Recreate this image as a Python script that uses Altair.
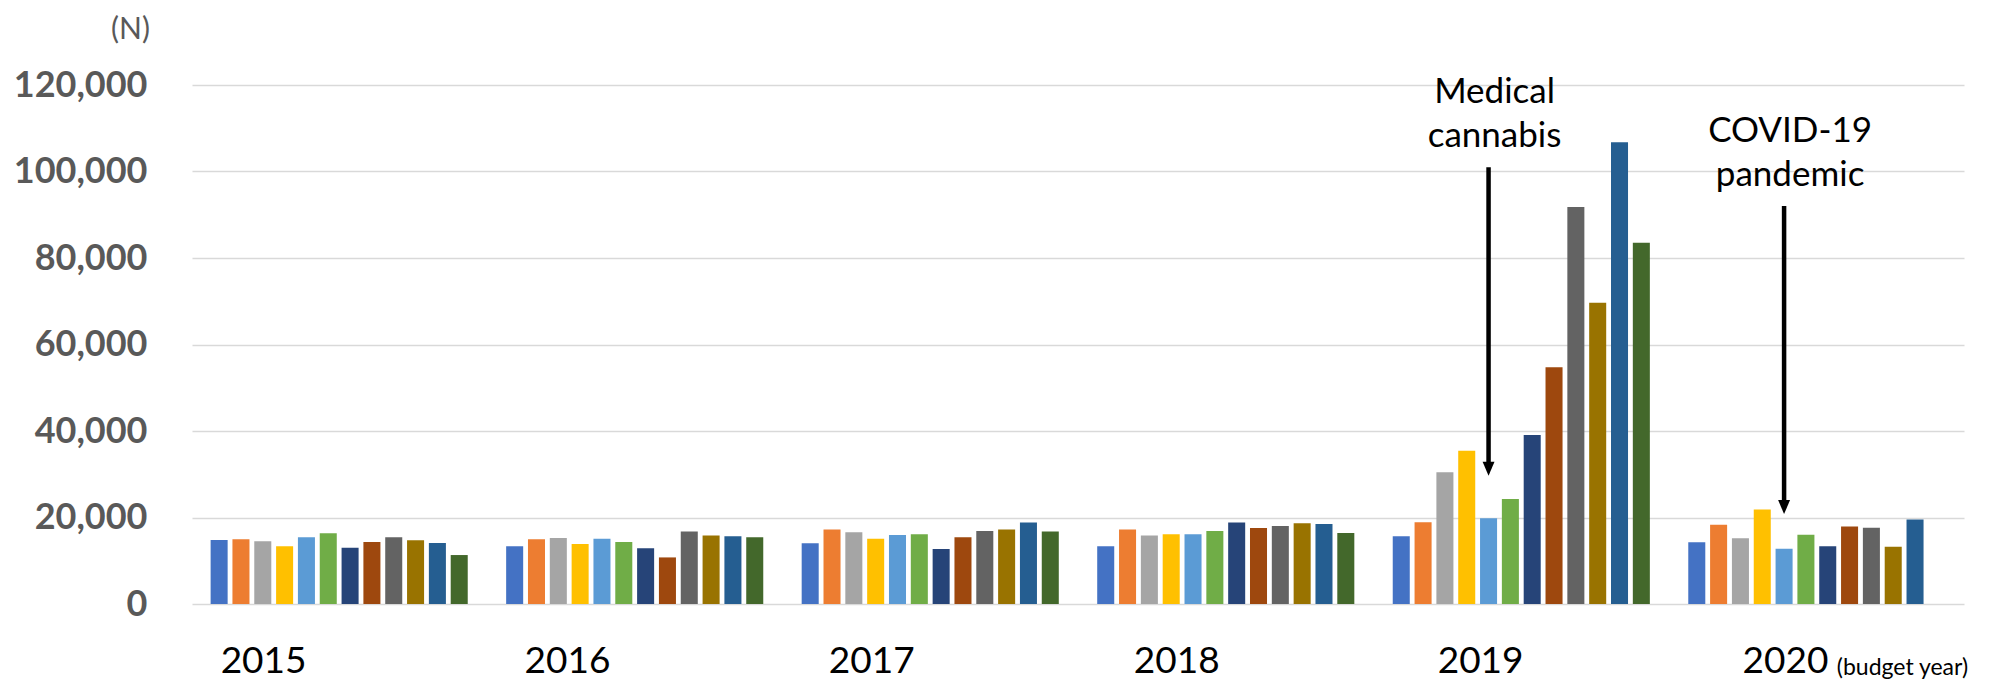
import altair as alt
import pandas as pd

# ---- data ----
years = ["2015", "2016", "2017", "2018", "2019", "2020"]
months = ["Apr", "May", "Jun", "Jul", "Aug", "Sep", "Oct", "Nov", "Dec", "Jan", "Feb", "Mar"]
month_colors = ["#4472C4", "#ED7D31", "#A5A5A5", "#FFC000", "#5B9BD5", "#70AD47",
                "#264478", "#9E480E", "#636363", "#997300", "#255E91", "#43682B"]

v2015 = [14800, 14960, 14490, 13330, 15420, 16350, 13020, 14340, 15420, 14730, 14100, 11320]
v2016 = [13330, 14960, 15270, 13870, 15110, 14340, 12870, 10770, 16740, 15810, 15660, 15420]
v2017 = [14030, 17200, 16590, 15110, 15970, 16120, 12710, 15420, 16900, 17200, 18830, 16740]
v2018 = [13330, 17200, 15810, 16120, 16120, 16900, 18830, 17590, 18060, 18680, 18520, 16430]
v2019 = [15690, 18920, 30450, 35450, 19840, 24300, 39070, 54750, 91820, 69670, 106740, 83510]
v2020 = [14300, 18300, 15230, 21840, 12770, 16000, 13380, 17920, 17610, 13230, 19530]

ann_labels = [["Medical", "cannabis"], ["COVID-19", "pandemic"]]
ann_years = ["2019", "2020"]
ann_months = ["Aug", "Aug"]
ann_text_y = [115900, 106900]
ann_arrow_top = [101000, 92000]
ann_arrow_head = [31300, 22400]

y_ticks = [0, 20000, 40000, 60000, 80000, 100000, 120000]
year_label_shift = [-75.6, -67.2, -58.5, -49.0, -40.7, -31.4]

# ---- tables ----
series = [v2015, v2016, v2017, v2018, v2019, v2020]
rows = []
for yr, vals in zip(years, series):
    for m, v in zip(months, vals):
        rows.append({"year": yr, "month": m, "value": v})
df = pd.DataFrame(rows)

ann = pd.DataFrame({
    "label": ann_labels,
    "year": ann_years,
    "month": ann_months,
    "ty": ann_text_y,
    "top": ann_arrow_top,
    "head": ann_arrow_head,
})

FONT = "Lato"

x_scale = alt.Scale(domain=years, paddingInner=0.13, paddingOuter=0.063)
off_scale = alt.Scale(domain=months, paddingInner=0.22, paddingOuter=0)
y_scale = alt.Scale(domain=[0, 120000], nice=False)

label_offset = {
    "condition": [
        {"test": f"datum.value == '{yr}'", "value": s}
        for yr, s in zip(years[:-1], year_label_shift[:-1])
    ],
    "value": year_label_shift[-1],
}

x_enc = alt.X(
    "year:N",
    scale=x_scale,
    title=None,
    axis=alt.Axis(
        labelFont=FONT,
        labelFontSize=37,
        labelColor="#000000",
        labelPadding=39,
        labelAngle=0,
        ticks=False,
        domain=False,
        labelOffset=label_offset,
    ),
)

y_enc = alt.Y(
    "value:Q",
    scale=y_scale,
    axis=alt.Axis(
        values=y_ticks,
        format=",.0f",
        labelFont=FONT,
        labelFontSize=36,
        labelFontWeight="bold",
        labelColor="#595959",
        labelPadding=45,
        ticks=False,
        domain=False,
        grid=True,
        gridColor="#D9D9D9",
        gridWidth=1.5,
        title="(N)",
        titleAngle=0,
        titleX=-62,
        titleY=-56,
        titleAlign="center",
        titleBaseline="middle",
        titleFont=FONT,
        titleFontSize=30,
        titleFontWeight="normal",
        titleColor="#595959",
    ),
)

bars = alt.Chart(df).mark_bar().encode(
    x=x_enc,
    xOffset=alt.XOffset("month:N", scale=off_scale),
    y=y_enc,
    color=alt.Color("month:N", scale=alt.Scale(domain=months, range=month_colors), legend=None),
)

arrow_line = alt.Chart(ann).mark_rule(color="#000000", strokeWidth=4.5).encode(
    x=alt.X("year:N", scale=x_scale),
    xOffset=alt.XOffset("month:N", scale=off_scale),
    y=alt.Y("top:Q", scale=y_scale),
    y2="head:Q",
)

arrow_head = alt.Chart(ann).mark_point(
    shape="M-0.85,-1L0.85,-1L0,1Z", size=196, filled=True, color="#000000", opacity=1
).encode(
    x=alt.X("year:N", scale=x_scale),
    xOffset=alt.XOffset("month:N", scale=off_scale),
    y=alt.Y("head:Q", scale=y_scale),
)

ann_text = alt.Chart(ann).mark_text(
    font=FONT, fontSize=35, color="#000000", align="center", baseline="alphabetic",
    lineHeight=44, dx=6,
).encode(
    x=alt.X("year:N", scale=x_scale),
    xOffset=alt.XOffset("month:N", scale=off_scale),
    y=alt.Y("ty:Q", scale=y_scale),
    text="label",
)

budget = alt.Chart(pd.DataFrame({"year": ["2020"], "t": ["(budget year)"]})).mark_text(
    font=FONT, fontSize=23, color="#000000", align="left", baseline="alphabetic", dx=20,
).encode(
    x=alt.X("year:N", scale=x_scale),
    y=alt.value(590),
    text="t:N",
)

chart = alt.layer(bars, arrow_line, arrow_head, ann_text, budget).properties(
    width=1772,
    height=519,
    padding={"left": 184, "top": 77, "right": 23, "bottom": 76},
    autosize=alt.AutoSizeParams(type="none"),
).configure_view(strokeWidth=0)

chart.save("out.html", embed_options={"renderer": "svg", "actions": False})
